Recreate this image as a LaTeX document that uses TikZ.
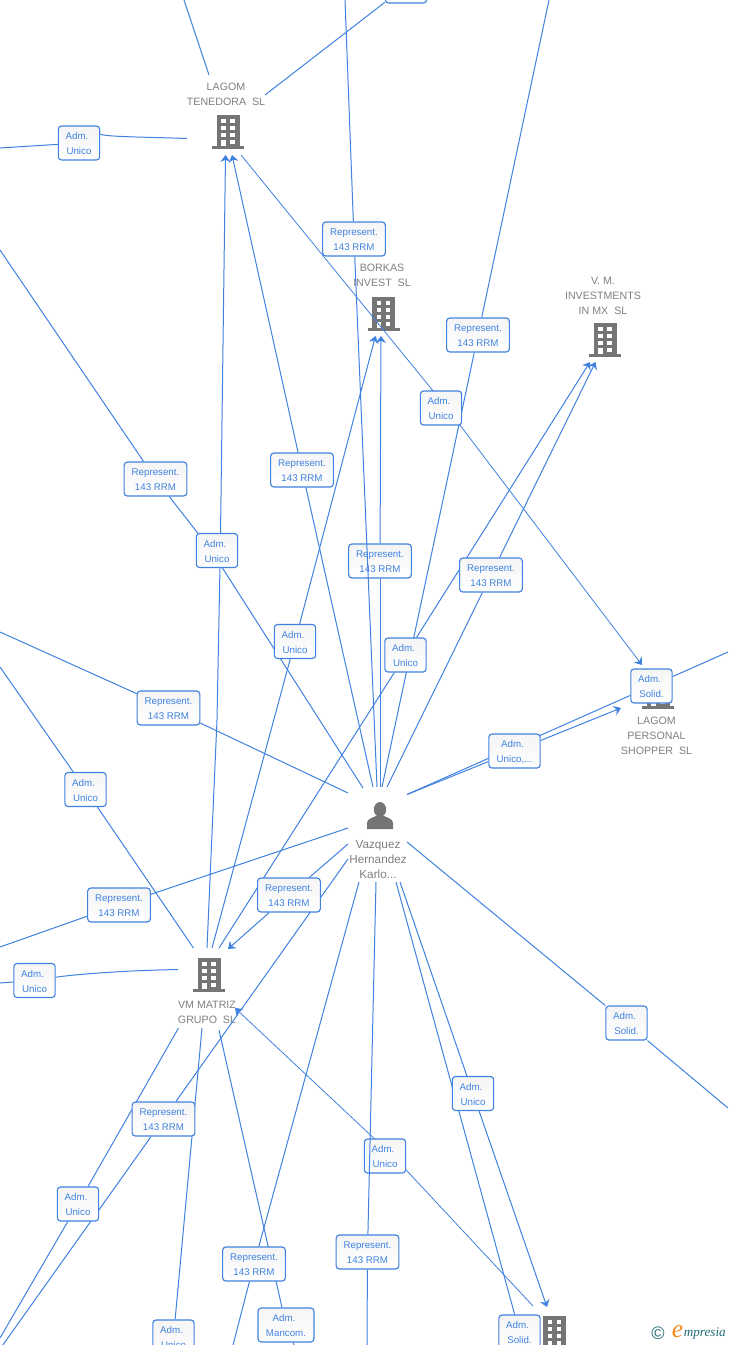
\documentclass[tikz,border=0pt]{standalone}
\usepackage{fontspec}
\setmainfont{Liberation Sans}
\newfontfamily\logofont{Liberation Serif}
\usetikzlibrary{arrows.meta}
\pgfdeclarelayer{under}\pgfdeclarelayer{lines}\pgfdeclarelayer{over}
\pgfsetlayers{under,lines,main,over}
\definecolor{edgeblue}{HTML}{3F82E0}
\definecolor{icongray}{HTML}{757575}
\definecolor{labelgray}{HTML}{808080}
\definecolor{logoteal}{HTML}{1F6A78}
\definecolor{logoorange}{HTML}{F08A1D}
\newcommand\tagtxt[2]{\raisebox{-.6pt}[5.4pt][0pt]{#1}\\\raisebox{-.6pt}[5.4pt][0pt]{#2}}
\newcommand\admtxt[1]{\tagtxt{Adm.\hspace{3pt}}{#1}}
\newcommand\reptxt{\tagtxt{Represent.}{143 RRM}}
\newcommand\captxt[1]{\raisebox{-.75pt}[5.6pt][0pt]{#1}}
\tikzset{
  x=0.75pt,y=-0.75pt,
  tag/.style={draw=edgeblue,line width=0.85pt,rounded corners=2.4pt,top color=black!4,bottom color=white,
    text=edgeblue,align=center,inner sep=0pt,minimum height=25.5pt,
    font=\fontsize{7.3}{11.25}\selectfont},
  reptag/.style={tag,minimum width=47pt},
  admtag/.style={tag,minimum width=31pt},
  wdtag/.style={tag,minimum width=38.5pt},
  mantag/.style={tag,minimum width=42pt},
  caption/.style={text=labelgray,align=center,inner sep=0pt,font=\fontsize{8}{11.25}\selectfont},
  bigcaption/.style={caption,font=\fontsize{8.8}{11.25}\selectfont},
  link/.style={draw=edgeblue,line width=0.75pt},
  thin link/.style={draw=edgeblue,line width=0.6pt},
  arrowlink/.style={link,-{Stealth[length=5.2pt,width=7.4pt,inset=1.7pt]}},
  thin arrowlink/.style={thin link,-{Stealth[length=5.2pt,width=7.4pt,inset=1.7pt]}},
  pics/building/.style={code={
    \fill[icongray] (-11.5,0) rectangle (11.5,31);
    \fill[icongray] (-16,31) rectangle (16,34);
    \foreach \r in {4,11,18}{
      \fill[white] (-7,\r) rectangle (-2.2,\r+4);
      \fill[white] (2,\r) rectangle (6.8,\r+4);
    }
    \fill[white] (-7,24.5) rectangle (-2.2,31);
    \fill[white] (2,24.5) rectangle (6.8,28.5);
  }},
  pics/personicon/.style={code={
    \fill[icongray] (0,-6.5) ellipse (6.2 and 7.5);
    \fill[icongray] (-13,13) -- (-13,7) .. controls (-13,3) and (-8,2) .. (-4,0) -- (4,0)
      .. controls (8,2) and (13,3) .. (13,7) -- (13,13) -- cycle;
  }},
}
\begin{document}
\begin{tikzpicture}
\path[use as bounding box] (0,0) rectangle (728,1345);
\clip (0,0) rectangle (728,1345);

% icons and captions
\begin{pgfonlayer}{under}
\fill[white] (0,0) rectangle (728,1345);
\pic at (228,115) {building};
\pic at (383.5,297) {building};
\pic at (605,323) {building};
\pic at (658,675) {building};
\pic at (209,958) {building};
\pic at (554.5,1316) {building};
\pic at (380,816) {personicon};
\node[caption] (ntenedora) at (226,93.5) {\captxt{LAGOM}\\\captxt{TENEDORA\ \ SL}};
\node[caption] (nborkas) at (382,274.5) {\captxt{BORKAS}\\\captxt{INVEST\ \ SL}};
\node[caption] (nvm) at (603,295) {\captxt{V. M.}\\\captxt{INVESTMENTS}\\\captxt{IN MX\ \ SL}};
\node[caption] (npersonal) at (656.5,735) {\captxt{LAGOM}\\\captxt{PERSONAL}\\\captxt{SHOPPER\ \ SL}};
\node[bigcaption] (nperson) at (378,859) {\captxt{Vazquez}\\\captxt{Hernandez}\\\captxt{Karlo...}};
\node[caption] (nmatriz) at (207,1011.5) {\captxt{VM MATRIZ}\\\captxt{GRUPO\ \ SL}};
\end{pgfonlayer}

% edge labels
\node[admtag] (t0) at (406,-14) {};
\node[admtag] (a1) at (79,143) {\admtxt{Unico}};
\node[reptag] (r1) at (354,239) {\reptxt};
\node[reptag] (r2) at (478,335) {\reptxt};
\node[admtag] (a2) at (441,408) {\admtxt{Unico}};
\node[reptag] (r3) at (155.5,479) {\reptxt};
\node[reptag] (r4) at (302,470) {\reptxt};
\node[admtag] (a3) at (217,550.5) {\admtxt{Unico}};
\node[reptag] (r5) at (380,561) {\reptxt};
\node[reptag] (r6) at (491,575) {\reptxt};
\node[admtag] (a4) at (295,641.5) {\admtxt{Unico}};
\node[admtag] (a5) at (405.5,655) {\admtxt{Unico}};
\node[admtag] (s1) at (651.5,686) {\admtxt{Solid.}};
\node[reptag] (r7) at (168.5,708) {\reptxt};
\node[wdtag] (u1) at (514.5,751) {\admtxt{Unico,...}};
\node[admtag] (a6) at (85.5,789.5) {\admtxt{Unico}};
\node[reptag] (r8) at (119,905) {\reptxt};
\node[reptag] (r9) at (289,895) {\reptxt};
\node[admtag] (a7) at (34.5,980.5) {\admtxt{Unico}};
\node[admtag] (s2) at (626.5,1023) {\admtxt{Solid.}};
\node[admtag] (a8) at (473,1093.5) {\admtxt{Unico}};
\node[reptag] (r10) at (163.5,1119) {\reptxt};
\node[admtag] (a9) at (385,1156) {\admtxt{Unico}};
\node[admtag] (a10) at (78,1204) {\admtxt{Unico}};
\node[reptag] (r11) at (367.5,1252) {\reptxt};
\node[reptag] (r12) at (254,1264) {\reptxt};
\node[mantag] (m1) at (286,1325) {\admtxt{Mancom.}};
\node[admtag] (a11) at (173.5,1337) {\admtxt{Unico}};
\node[admtag] (s3) at (519.5,1332) {\admtxt{Solid.}};

% free ends
\coordinate (topa) at (184,0);
\coordinate (tenT) at (209,75);
\coordinate (tenR) at (265,95);
\coordinate (leftA) at (0,148);
\coordinate (tenL) at (187,138.5);
\coordinate (topb) at (345,0);
\coordinate (topc) at (549,0);
\coordinate (tenA1) at (225.5,155);
\coordinate (tenA2) at (232,155);
\coordinate (tenOut) at (241,155);
\coordinate (borA1) at (375.5,336);
\coordinate (borA2) at (381,336);
\coordinate (vmA1) at (590,362);
\coordinate (vmA2) at (595.5,362);
\coordinate (perA) at (642,665);
\coordinate (perB) at (621,708);
\coordinate (leftB) at (0,250);
\coordinate (leftC) at (0,632);
\coordinate (leftD) at (0,667);
\coordinate (leftE) at (0,947);
\coordinate (leftF) at (0,983);
\coordinate (rightA) at (728,652);
\coordinate (rightB) at (728,1108);
\coordinate (pTL) at (363,788);
\coordinate (pT1) at (373,787);
\coordinate (pT2) at (377,787);
\coordinate (pT3) at (380,787);
\coordinate (pT4) at (382,787);
\coordinate (pT5) at (387,787);
\coordinate (pL1) at (348,793);
\coordinate (pL2) at (348,828);
\coordinate (pL3) at (348,844);
\coordinate (pL4) at (348,859);
\coordinate (pR1) at (407,794.5);
\coordinate (pR2) at (407,842);
\coordinate (pB1) at (359,882);
\coordinate (pB2) at (376,882);
\coordinate (pB3) at (396,882);
\coordinate (pB4) at (400,882);
\coordinate (mT1) at (193.5,948);
\coordinate (mT2) at (207,948);
\coordinate (mT3) at (212,948);
\coordinate (mT4) at (219,948);
\coordinate (mA1) at (228,949);
\coordinate (mA2) at (235,1008);
\coordinate (mL) at (178,969.5);
\coordinate (mB1) at (178.5,1028);
\coordinate (mB2) at (202,1028);
\coordinate (mB3) at (219,1030);
\coordinate (botA) at (0,1338);
\coordinate (botB) at (0,1349);
\coordinate (botC) at (177,1345);
\coordinate (botD) at (233,1345);
\coordinate (botE) at (294,1345);
\coordinate (botF) at (367,1345);
\coordinate (botG) at (547,1307);
\coordinate (botH) at (533,1306);
\coordinate (bend1) at (447,408);
\coordinate (bend2) at (395,1158);
\coordinate (bend3) at (211,550);
\coordinate (bend4) at (220.3,550);
\coordinate (mMid) at (217,720);

\begin{pgfonlayer}{lines}
\draw[link] (topa) -- (tenT);
\draw[link] (t0) -- (tenR);
\draw[link] (leftA) -- (a1);
\draw[link] (a1) .. controls (90,137) and (130,136.5) .. (tenL);
\draw[link] (topb) -- (r1);
\draw[link] (topc) -- (r2);
\draw[link] (r2) -- (pT4);
\draw[thin link] (tenOut) -- (bend1);
\draw[thin arrowlink] (bend1) -- (perA);
\draw[link] (leftB) -- (r3);
\draw[link] (r3) -- (bend3);
\draw[link] (bend3) -- (pTL);
\draw[arrowlink] (bend4) -- (tenA1);
\draw[link] (mT2) -- (mMid) -- (bend4);
\draw[arrowlink] (r4) -- (tenA2);
\draw[link] (pT1) -- (r4);
\draw[arrowlink] (a4) -- (borA1);
\draw[link] (mT3) -- (a4);
\draw[arrowlink] (r5) -- (borA2);
\draw[link] (pT3) -- (r5);
\draw[arrowlink] (a5) -- (vmA1);
\draw[link] (mT4) -- (a5);
\draw[arrowlink] (r6) -- (vmA2);
\draw[link] (pT5) -- (r6);
\draw[link] (leftC) -- (r7);
\draw[link] (r7) -- (pL1);
\draw[link] (leftD) -- (a6);
\draw[link] (a6) -- (mT1);
\draw[link] (leftE) -- (r8);
\draw[link] (r8) -- (pL2);
\draw[link] (pL3) -- (r9);
\draw[arrowlink] (r9) -- (mA1);
\draw[link] (leftF) -- (a7);
\draw[link] (a7) .. controls (70,975) and (120,970.5) .. (mL);
\draw[link] (pR1) -- (u1);
\draw[arrowlink] (u1) -- (perB);
\draw[link] (pR1) -- (s1);
\draw[link] (s1) -- (rightA);
\draw[link] (pR2) -- (s2);
\draw[link] (s2) -- (rightB);
\draw[link] (pL4) -- (r10);
\draw[link] (r10) -- (botB);
\draw[link] (mB1) -- (a10);
\draw[link] (a10) -- (botA);
\draw[link] (mB2) -- (a11);
\draw[link] (a11) -- (botC);
\draw[link] (mB3) -- (m1);
\draw[link] (m1) -- (botE);
\draw[link] (pB1) -- (r12);
\draw[link] (r12) -- (botD);
\draw[link] (r11) -- (botF);
\draw[link] (pB3) -- (s3);
\draw[link] (pB4) -- (a8);
\draw[arrowlink] (a8) -- (botG);
\draw[thin link] (botH) -- (bend2);
\draw[thin arrowlink] (bend2) -- (mA2);
\end{pgfonlayer}

\begin{pgfonlayer}{over}
\draw[link] (r1) -- (pT2);
\draw[link] (pB2) -- (r11);
\end{pgfonlayer}

% logo
\node[inner sep=0pt,text=logoteal,font=\fontsize{13.5}{14}\selectfont] (copyr) at (658,1333.5) {©};
\node[inner sep=0pt,text=logoorange,font=\logofont\itshape\fontsize{19}{20}\selectfont] (logoe) at (677.5,1332) {e};
\node[inner sep=0pt,anchor=west,text=logoteal,font=\logofont\itshape\fontsize{9.9}{10}\selectfont] (logot) at (683.5,1334) {mpresia};
\end{tikzpicture}
\end{document}
